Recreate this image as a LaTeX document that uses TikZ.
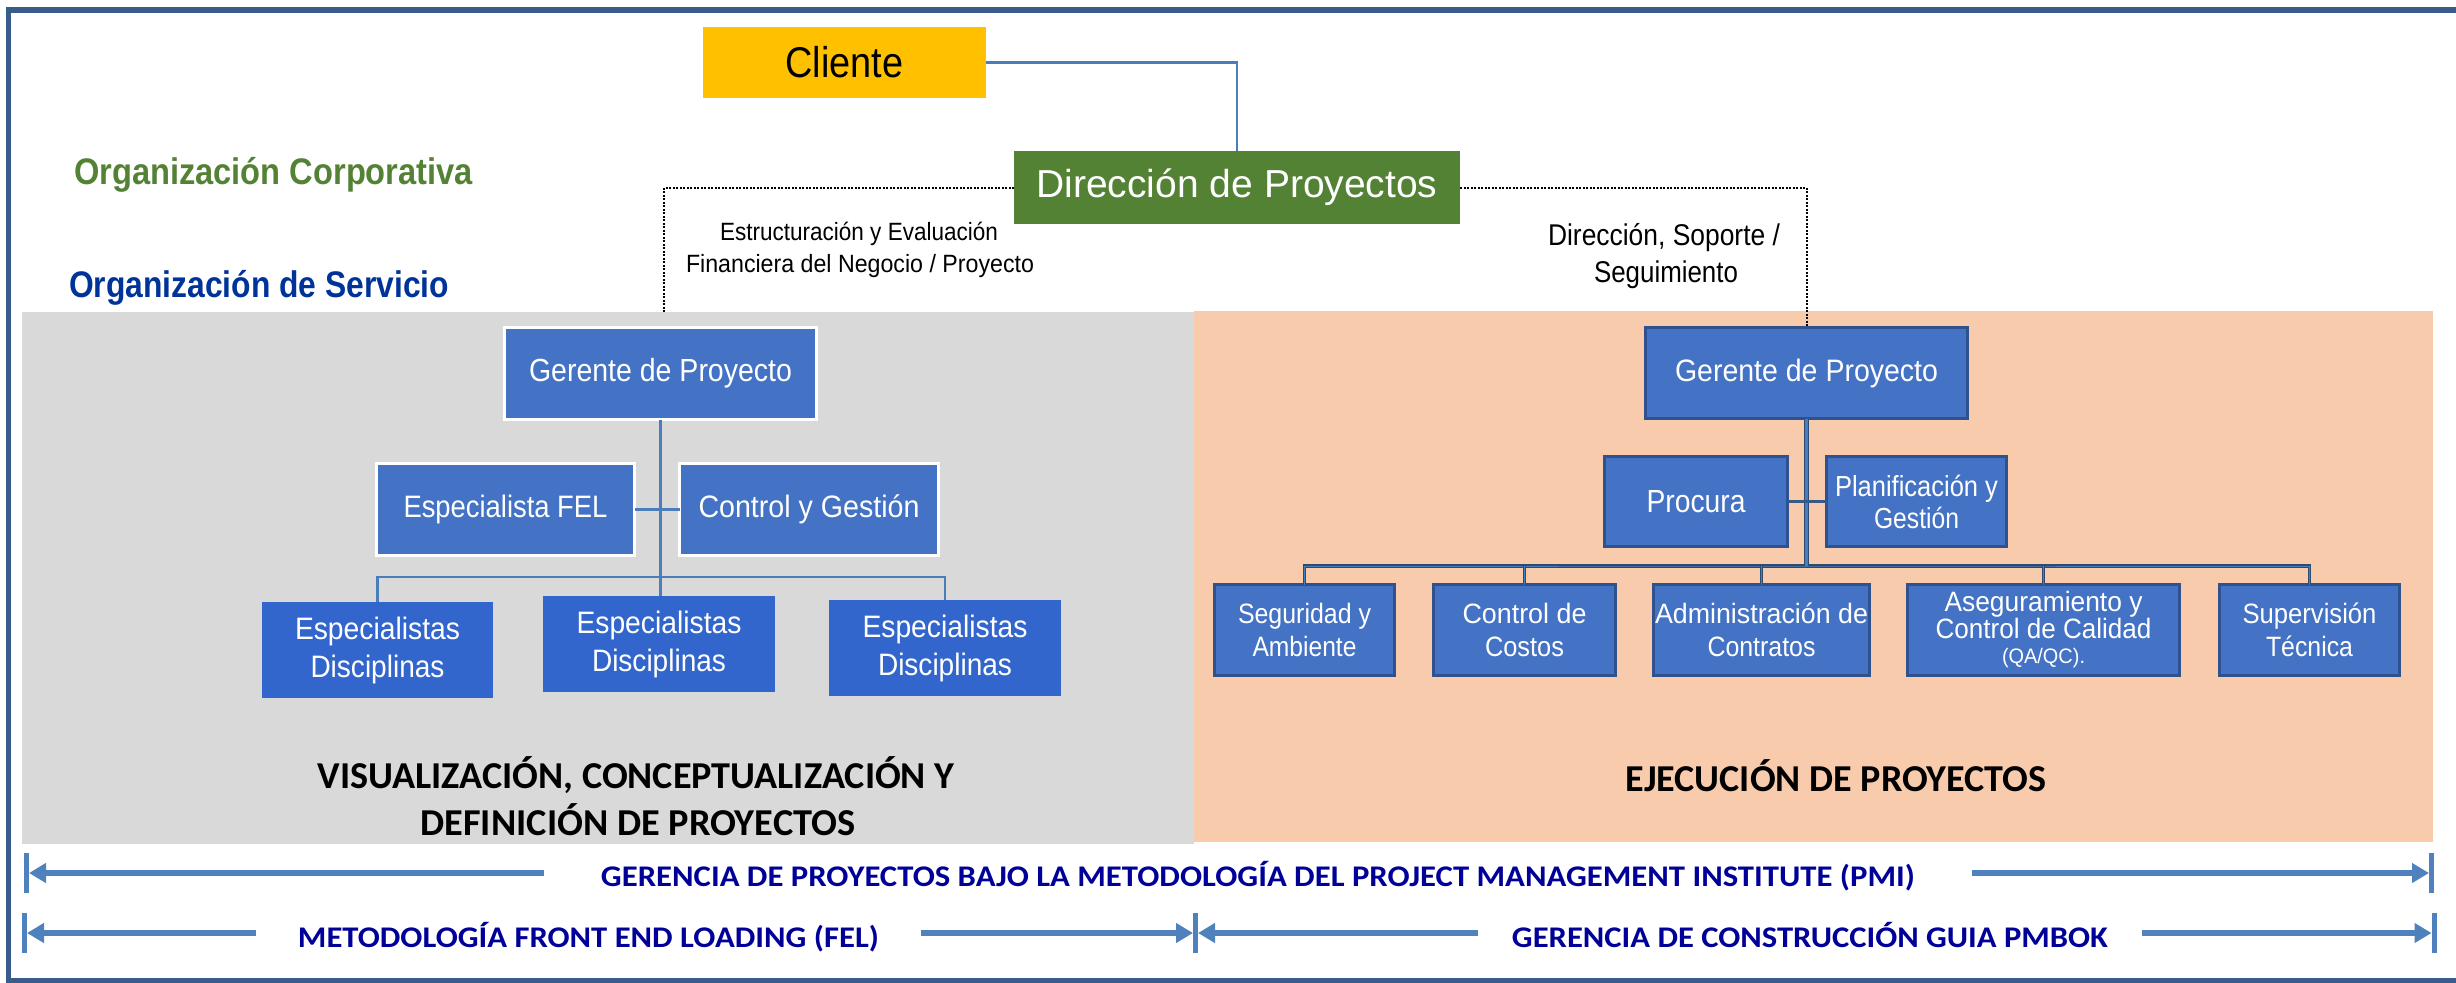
\documentclass[tikz,border=0pt]{standalone}
\usepackage{fontspec}
\usepackage{graphicx}
\setmainfont{Liberation Sans}
\newfontfamily\calib{Carlito}
\usetikzlibrary{arrows.meta}
\newcommand\fw[2]{\resizebox{#1pt}{\height}{#2}}
\newcommand\fs[2]{\fontsize{#1}{#2}\selectfont}
\definecolor{frameblue}{HTML}{385D8A}
\definecolor{grayp}{HTML}{D9D9D9}
\definecolor{peachp}{HTML}{F8CBAD}
\definecolor{boxblue}{HTML}{4472C4}
\definecolor{espblue}{HTML}{3366CC}
\definecolor{boxedge}{HTML}{2F528F}
\definecolor{connblue}{HTML}{4A7EBB}
\definecolor{conndark}{HTML}{2E4A6E}
\definecolor{clientyel}{HTML}{FFC000}
\definecolor{dirgreen}{HTML}{548235}
\definecolor{servblue}{HTML}{003399}
\definecolor{navy}{HTML}{000099}
\definecolor{arrowblue}{HTML}{4F81BD}
\begin{document}
\begin{tikzpicture}[x=1pt,y=-1pt,
  every node/.style={inner sep=0pt, outer sep=0pt},
  lbox/.style={fill=boxblue, draw=white, line width=3pt, text=white, align=center},
  espbox/.style={fill=espblue, text=white, align=center, minimum width=232pt, minimum height=96pt},
  rbox/.style={fill=boxblue, draw=boxedge, line width=3pt, text=white, align=center},
  lconn/.style={draw=connblue, line width=2.5pt},
  rconn/.style={draw=conndark, line width=#1, postaction={draw=connblue, line width=#1-2.5pt}},
  rconn/.default=5pt,
  dotline/.style={draw=black, line width=2pt, dash pattern=on 2pt off 1.5pt},
  tick/.style={fill=arrowblue, minimum width=5pt, minimum height=40pt},
  arr/.style={draw=arrowblue, line width=6pt, -{Triangle[length=17pt,width=19pt]}},
  barlabel/.style={text=navy, font=\calib\bfseries\fs{30}{34}, anchor=base}
]
\useasboundingbox (0,0) rectangle (2456,982);
% frame
\draw[frameblue, line width=5.5pt] (2470,10) -- (8.5,10) -- (8.5,980.5) -- (2470,980.5);
% panels
\fill[grayp] (22,312) rectangle (1194,844);
\fill[peachp] (1194,311) rectangle (2433,842);
\coordinate (lend) at (664,312);

% top nodes
\node[fill=clientyel, minimum width=283pt, minimum height=71pt, font=\fs{43}{50}] (cli) at (844.5,62.5) {\fw{118}{Cliente}};
\node[fill=dirgreen, minimum width=446pt, minimum height=73pt, text=white, font=\fs{39}{46}] (dir) at (1237,187.5) {\fw{401}{Dirección de Proyectos}};

\node[anchor=base west, text=dirgreen, font=\bfseries\fs{37}{42}] (oc) at (74,184) {\fw{399}{Organización Corporativa}};
\node[anchor=base west, text=servblue, font=\bfseries\fs{37}{42}] (os) at (69,297) {\fw{380}{Organización de Servicio}};

\node[anchor=base, font=\fs{25}{30}] (est1) at (859,240) {\fw{278}{Estructuración  y Evaluación}};
\node[anchor=base, font=\fs{25}{30}] (est2) at (860,272) {\fw{348}{Financiera  del Negocio / Proyecto}};
\node[anchor=base, font=\fs{30}{36}] (ds1) at (1664,245) {\fw{232}{Dirección, Soporte /}};
\node[anchor=base, font=\fs{30}{36}] (ds2) at (1666,282) {\fw{144}{Seguimiento}};

% left org chart
\node[lbox, minimum width=312pt, minimum height=92pt, font=\fs{32}{38}] (gL) at (660.5,373.5) {\fw{263}{Gerente  de Proyecto}};
\node[lbox, minimum width=258pt, minimum height=92pt, font=\fs{31}{37}] (fel) at (505.5,509.5) {\fw{204}{Especialista FEL}};
\node[lbox, minimum width=259pt, minimum height=92pt, font=\fs{31}{37}] (ctl) at (809,509.5) {\fw{221}{Control  y Gestión}};
\node[espbox, minimum width=231pt, font=\fs{31}{38}] (esp1) at (377.5,650) {\fw{165}{Especialistas}\\\fw{134}{Disciplinas}};
\node[espbox, font=\fs{31}{38}] (esp2) at (659,644) {\fw{165}{Especialistas}\\\fw{134}{Disciplinas}};
\node[espbox, font=\fs{31}{38}] (esp3) at (945,648) {\fw{165}{Especialistas}\\\fw{134}{Disciplinas}};

% right org chart
\node[rbox, minimum width=322pt, minimum height=91pt, font=\fs{31}{37}] (gR) at (1806.5,373) {\fw{263}{Gerente  de Proyecto}};
\node[rbox, minimum width=183pt, minimum height=90pt, font=\fs{32}{38}] (proc) at (1696,501.5) {\fw{99}{Procura}};
\node[rbox, minimum width=180pt, minimum height=90pt, font=\fs{29}{32}] (plan) at (1916.5,501.5) {\fw{163}{Planificación  y}\\\fw{85}{Gestión}};
\node[rbox, minimum width=180pt, minimum height=91pt, font=\fs{28}{33}] (seg) at (1304.5,630) {\fw{133}{Seguridad y}\\\fw{104}{Ambiente}};
\node[rbox, minimum width=182pt, minimum height=91pt, font=\fs{28}{33}] (cost) at (1524.5,630) {\fw{124}{Control de}\\\fw{79}{Costos}};
\node[rbox, minimum width=216pt, minimum height=91pt, font=\fs{28}{33}] (adm) at (1761.5,630) {\fw{213}{Administración de}\\\fw{108}{Contratos}};
\node[rbox, minimum width=272pt, minimum height=91pt, font=\fs{28}{27}] (aseg) at (2043.5,630) {\fw{198}{Aseguramiento  y}\\\fw{216}{Control de Calidad}\\[-2pt]{\fs{21}{25}\fw{83}{(QA/QC).}}};
\node[rbox, minimum width=180pt, minimum height=91pt, font=\fs{28}{33}] (sup) at (2309.5,630) {\fw{134}{Supervisión}\\\fw{87}{Técnica}};

\coordinate (busL) at (660,577);
\coordinate (busR) at (1807,566);

% connectors
\draw[lconn] (cli.east) -| (dir.north);
\draw[dotline] (dir.west) -| (lend);
\draw[dotline] (dir.east) -| (gR.north);

\draw[lconn] (gL.south) -- (gL.south |- esp2.north);
\draw[lconn] (fel.east) -- (ctl.west);
\draw[lconn] (esp1.north) |- (busL) -| (esp3.north);

\draw[rconn=3.5pt] (seg.north) |- (busR) -| (sup.north);
\draw[rconn=3.5pt] (cost.north) -- (cost.north |- busR);
\draw[rconn=3.5pt] (adm.north) -- (adm.north |- busR);
\draw[rconn=3.5pt] (aseg.north) -- (aseg.north |- busR);
\draw[rconn=5pt] (gR.south) -- (gR.south |- busR);
\draw[draw=conndark!70!connblue, line width=3.5pt] (proc.east) -- (plan.west);

% bottom section labels
\node[anchor=base, font=\calib\bfseries\fs{38}{42}] (vis1) at (636,788) {\fw{637}{VISUALIZACIÓN, CONCEPTUALIZACIÓN Y}};
\node[anchor=base, font=\calib\bfseries\fs{38}{42}] (vis2) at (638,835) {\fw{435}{DEFINICIÓN DE PROYECTOS}};
\node[anchor=base, font=\calib\bfseries\fs{38}{42}] (eje) at (1836,791) {\fw{421}{EJECUCIÓN DE PROYECTOS}};

% bars
\node[tick] (t1L) at (26.5,873) {};
\node[tick] (t1R) at (2431.5,873) {};
\node[tick] (t2L) at (24.5,933) {};
\node[tick] (t2M) at (1195.5,933) {};
\node[tick] (t2R) at (2434,933) {};

\node[barlabel, inner xsep=57pt] (pmi) at (1258,886) {\fw{1314}{GERENCIA DE PROYECTOS BAJO LA METODOLOGÍA DEL PROJECT MANAGEMENT INSTITUTE (PMI)}};
\node[barlabel, inner xsep=41.5pt] (fell) at (588.5,947) {\fw{581}{METODOLOGÍA FRONT END LOADING (FEL)}};
\node[barlabel, inner xsep=33.5pt] (pmbok) at (1810,947) {\fw{596}{GERENCIA DE CONSTRUCCIÓN GUIA PMBOK}};

\draw[arr] (pmi.west |- t1L.center) -- (t1L.east);
\draw[arr] (pmi.east |- t1R.center) -- (t1R.west);
\draw[arr] (fell.west |- t2L.center) -- (t2L.east);
\draw[arr] (fell.east |- t2M.center) -- (t2M.west);
\draw[arr] (pmbok.west |- t2M.center) -- (t2M.east);
\draw[arr] (pmbok.east |- t2R.center) -- (t2R.west);
\end{tikzpicture}
\end{document}
